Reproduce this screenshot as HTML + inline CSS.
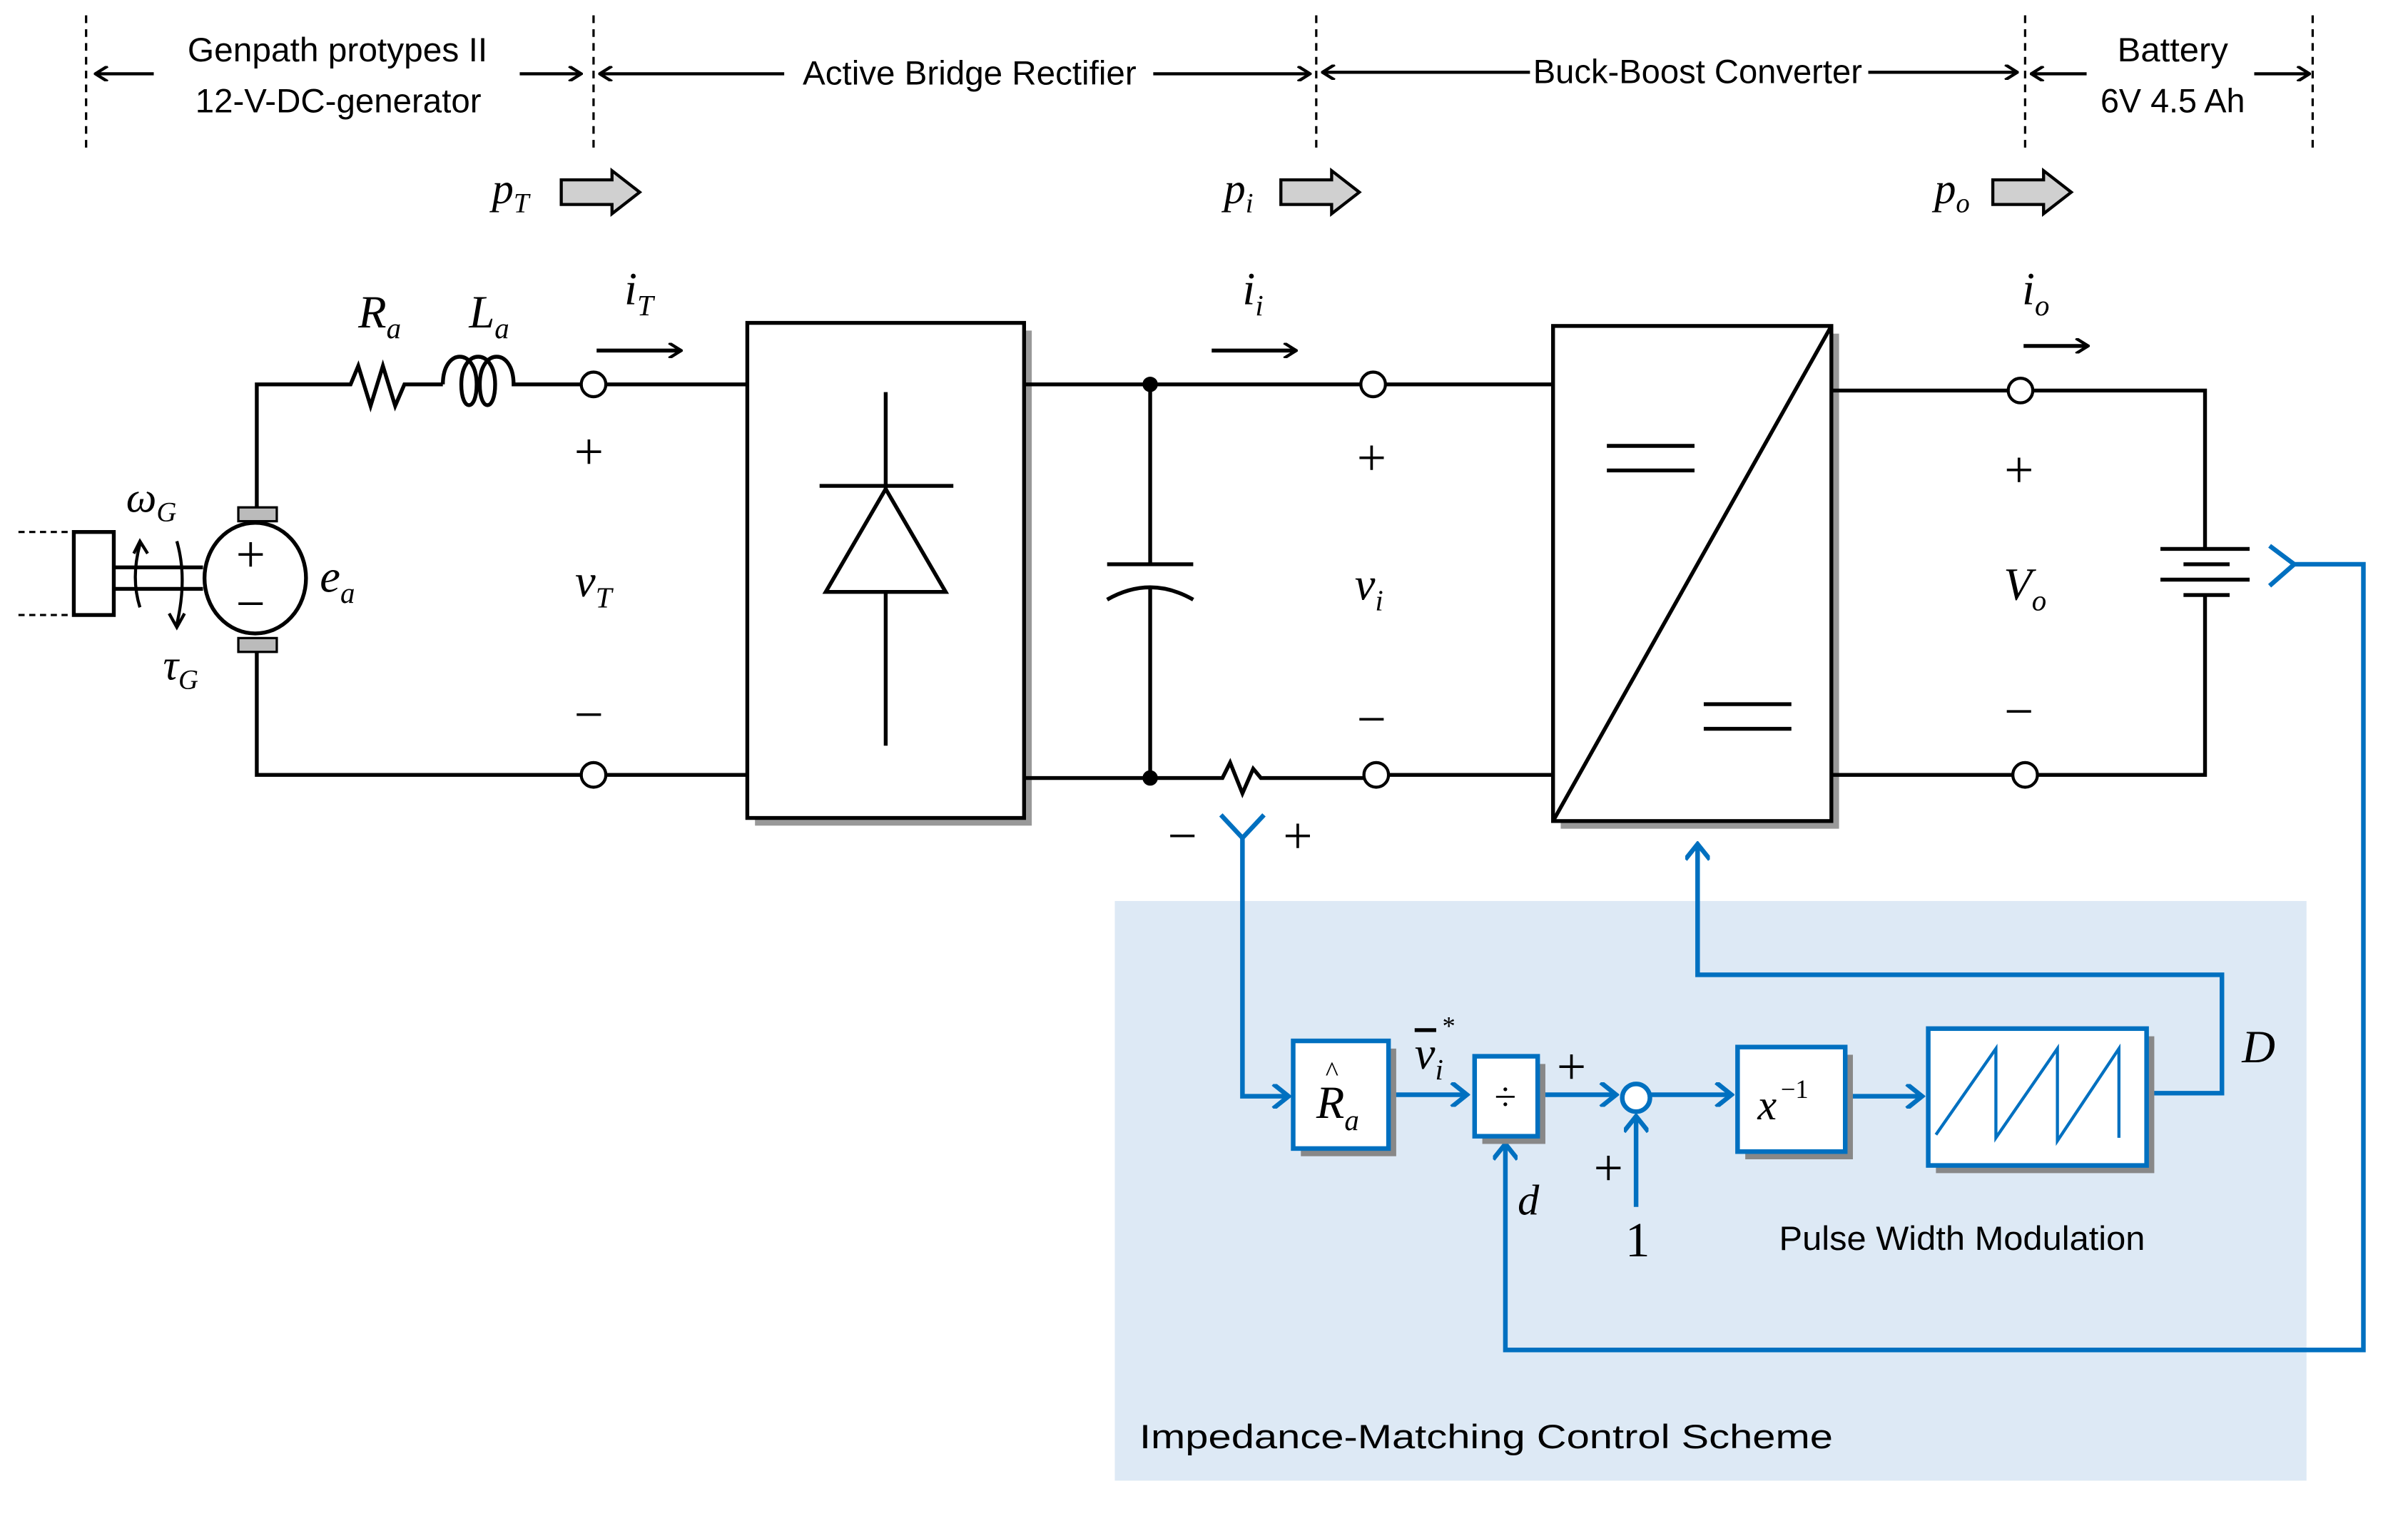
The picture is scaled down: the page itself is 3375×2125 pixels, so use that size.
<!DOCTYPE html>
<html><head><meta charset="utf-8"><style>
html,body{margin:0;padding:0;background:#fff;}
svg{display:block;}
.t{font-family:"Liberation Sans",sans-serif;font-size:22px;fill:#000;}
.m{font-family:"Liberation Serif",serif;font-style:italic;fill:#000;}
.s{font-family:"Liberation Serif",serif;fill:#000;}
</style></head><body>
<svg width="3375" height="2125" viewBox="0 0 1566 986" preserveAspectRatio="none" xmlns="http://www.w3.org/2000/svg">
<defs>
<marker id="ak" markerWidth="10" markerHeight="10" refX="9" refY="5" orient="auto" markerUnits="userSpaceOnUse"><path d="M1,0 L9,5 L1,10" fill="none" stroke="#000" stroke-width="2"/></marker>
<marker id="ab" markerWidth="14" markerHeight="16" refX="12" refY="8" orient="auto" markerUnits="userSpaceOnUse"><path d="M2,0 L12,8 L2,16" fill="none" stroke="#0070c0" stroke-width="3"/></marker>
</defs>
<rect width="1566" height="986" fill="#fff"/>
<g stroke="#000" stroke-width="1.5" stroke-dasharray="5,4">
<line x1="56" y1="10" x2="56" y2="100"/><line x1="386" y1="10" x2="386" y2="100"/>
<line x1="856" y1="10" x2="856" y2="100"/><line x1="1317" y1="10" x2="1317" y2="100"/>
<line x1="1504" y1="10" x2="1504" y2="100"/>
</g>
<g stroke="#000" stroke-width="2" fill="none" marker-end="url(#ak)">
<line x1="100" y1="48" x2="62" y2="48"/><line x1="338" y1="48" x2="378" y2="48"/>
<line x1="510" y1="48" x2="390" y2="48"/><line x1="750" y1="48" x2="852" y2="48"/>
<line x1="995" y1="47" x2="860" y2="47"/><line x1="1215" y1="47" x2="1312" y2="47"/>
<line x1="1357" y1="48" x2="1321" y2="48"/><line x1="1466" y1="48" x2="1502" y2="48"/>
</g>
<g class="t">
<text x="122" y="40" textLength="195" lengthAdjust="spacingAndGlyphs">Genpath protypes II</text>
<text x="127" y="73" textLength="186" lengthAdjust="spacingAndGlyphs">12-V-DC-generator</text>
<text x="522" y="55" textLength="217" lengthAdjust="spacingAndGlyphs">Active Bridge Rectifier</text>
<text x="997" y="54" textLength="214" lengthAdjust="spacingAndGlyphs">Buck-Boost Converter</text>
<text x="1377" y="40" textLength="72" lengthAdjust="spacingAndGlyphs">Battery</text>
<text x="1366" y="73" textLength="94" lengthAdjust="spacingAndGlyphs">6V 4.5 Ah</text>
</g>
<g fill="#d0d0d0" stroke="#000" stroke-width="2">
<path d="M365,117 H398 V111 L416,125 L398,139 V133 H365 Z"/>
<path d="M833,117 H866 V111 L884,125 L866,139 V133 H833 Z"/>
<path d="M1296,117 H1329 V111 L1347,125 L1329,139 V133 H1296 Z"/>
</g>
<text class="m" x="320" y="132" font-size="28">p<tspan font-size="18" dy="6">T</tspan></text>
<text class="m" x="796" y="132" font-size="28">p<tspan font-size="18" dy="6">i</tspan></text>
<text class="m" x="1258" y="132" font-size="28">p<tspan font-size="18" dy="6">o</tspan></text>

<g stroke="#000" stroke-width="2.5" fill="none">
<polyline points="167,333 167,250 228,250 233,238 241,264 249,238 257,264 263,250 268,250 288,250"/>
<path d="M288,250 c0,-24 22,-24 22,0 c0,18 -10,18 -10,0 c0,-24 22,-24 22,0 c0,18 -10,18 -10,0 c0,-24 22,-24 22,0 H378"/>
<line x1="394" y1="250" x2="486" y2="250"/>
<polyline points="167,424 167,504 378,504"/><line x1="394" y1="504" x2="486" y2="504"/>
<ellipse cx="166" cy="376" rx="33" ry="36"/>
<rect x="48" y="346" width="26" height="54" stroke-width="2.5"/>
<line x1="74" y1="369" x2="132" y2="369"/><line x1="74" y1="383" x2="132" y2="383"/>
<path d="M91,395 Q85,376 91,354" stroke-width="2"/><path d="M87,360 L91,352 L96,360" stroke-width="2"/>
<path d="M115,352 Q122,376 115,406" stroke-width="2"/><path d="M110,399 L115,408 L120,399" stroke-width="2"/>
</g>
<g stroke="#000" stroke-width="1.5" stroke-dasharray="4,3"><line x1="12" y1="346" x2="48" y2="346"/><line x1="12" y1="400" x2="48" y2="400"/></g>
<g fill="#bbb" stroke="#000" stroke-width="1.5"><rect x="155" y="330" width="25" height="9"/><rect x="155" y="415" width="25" height="9"/></g>
<g fill="#fff" stroke="#000" stroke-width="2"><circle cx="386" cy="250" r="8"/><circle cx="386" cy="504" r="8"/></g>
<text class="s" x="163" y="372" font-size="34" text-anchor="middle">+</text>
<text class="s" x="163" y="404" font-size="34" text-anchor="middle">−</text>
<text class="m" x="82" y="333" font-size="28">ω<tspan font-size="18" dy="6">G</tspan></text>
<text class="m" x="106" y="442" font-size="28">τ<tspan font-size="18" dy="6">G</tspan></text>
<text class="m" x="208" y="385" font-size="30">e<tspan font-size="19" dy="7">a</tspan></text>
<text class="m" x="233" y="213" font-size="30">R<tspan font-size="19" dy="7">a</tspan></text>
<text class="m" x="305" y="213" font-size="30">L<tspan font-size="19" dy="7">a</tspan></text>
<text class="m" x="406" y="198" font-size="30">i<tspan font-size="19" dy="7">T</tspan></text>
<line x1="388" y1="228" x2="443" y2="228" stroke="#000" stroke-width="2.5" marker-end="url(#ak)"/>
<text class="s" x="383" y="305" font-size="34" text-anchor="middle">+</text>
<text class="m" x="374" y="388" font-size="30">v<tspan font-size="19" dy="7">T</tspan></text>
<text class="s" x="383" y="476" font-size="34" text-anchor="middle">−</text>

<rect x="491" y="215" width="180" height="322" fill="#999"/>
<rect x="486" y="210" width="180" height="322" fill="#fff" stroke="#000" stroke-width="2.5"/>
<g stroke="#000" stroke-width="2.5" fill="none">
<line x1="576" y1="255" x2="576" y2="485"/><line x1="533" y1="316" x2="620" y2="316"/>
<polygon points="537,385 615,385 576,318" fill="#fff"/>
<line x1="666" y1="250" x2="885" y2="250"/>
<polyline points="666,506 795,506 800,496 808,516 815,500 820,506 887,506"/>
<line x1="748" y1="250" x2="748" y2="367"/><line x1="720" y1="367" x2="776" y2="367"/>
<path d="M720,390 Q748,374 776,390"/><line x1="748" y1="381" x2="748" y2="506"/>
<line x1="901" y1="250" x2="1010" y2="250"/><line x1="903" y1="504" x2="1010" y2="504"/>
</g>
<circle cx="748" cy="250" r="5" fill="#000"/><circle cx="748" cy="506" r="5" fill="#000"/>
<g fill="#fff" stroke="#000" stroke-width="2"><circle cx="893" cy="250" r="8"/><circle cx="895" cy="504" r="8"/></g>
<text class="m" x="808" y="198" font-size="30">i<tspan font-size="19" dy="7">i</tspan></text>
<line x1="788" y1="228" x2="843" y2="228" stroke="#000" stroke-width="2.5" marker-end="url(#ak)"/>
<text class="s" x="892" y="309" font-size="34" text-anchor="middle">+</text>
<text class="m" x="881" y="390" font-size="30">v<tspan font-size="19" dy="7">i</tspan></text>
<text class="s" x="892" y="479" font-size="34" text-anchor="middle">−</text>
<text class="s" x="769" y="555" font-size="34" text-anchor="middle">−</text>
<text class="s" x="844" y="555" font-size="34" text-anchor="middle">+</text>

<rect x="1015" y="217" width="181" height="322" fill="#999"/>
<rect x="1010" y="212" width="181" height="322" fill="#fff" stroke="#000" stroke-width="2.5"/>
<g stroke="#000" stroke-width="2.5" fill="none">
<line x1="1010" y1="534" x2="1191" y2="212"/>
<line x1="1045" y1="290" x2="1102" y2="290"/><line x1="1045" y1="306" x2="1102" y2="306"/>
<line x1="1108" y1="458" x2="1165" y2="458"/><line x1="1108" y1="474" x2="1165" y2="474"/>
<line x1="1191" y1="254" x2="1306" y2="254"/><polyline points="1322,254 1434,254 1434,356"/>
<line x1="1191" y1="504" x2="1309" y2="504"/><polyline points="1325,504 1434,504 1434,388"/>
<line x1="1405" y1="357" x2="1463" y2="357"/><line x1="1420" y1="367" x2="1450" y2="367"/>
<line x1="1405" y1="377" x2="1463" y2="377"/><line x1="1420" y1="387" x2="1450" y2="387"/>
</g>
<g fill="#fff" stroke="#000" stroke-width="2"><circle cx="1314" cy="254" r="8"/><circle cx="1317" cy="504" r="8"/></g>
<text class="m" x="1315" y="198" font-size="30">i<tspan font-size="19" dy="7">o</tspan></text>
<line x1="1316" y1="225" x2="1358" y2="225" stroke="#000" stroke-width="2.5" marker-end="url(#ak)"/>
<text class="s" x="1313" y="317" font-size="34" text-anchor="middle">+</text>
<text class="m" x="1303" y="390" font-size="30">V<tspan font-size="19" dy="7">o</tspan></text>
<text class="s" x="1313" y="474" font-size="34" text-anchor="middle">−</text>

<rect x="725" y="586" width="775" height="377" fill="#dde9f5"/>
<g stroke="#0070c0" stroke-width="3" fill="none">
<polyline points="794,530 808,545 822,530"/>
<polyline points="808,545 808,713 838,713" marker-end="url(#ab)"/>
<polyline points="1476,355 1492,367 1476,381"/>
<polyline points="1492,367 1537,367 1537,878 979,878 979,744" marker-end="url(#ab)"/>
<line x1="903" y1="712" x2="954" y2="712" marker-end="url(#ab)"/>
<line x1="1000" y1="712" x2="1051" y2="712" marker-end="url(#ab)"/>
<line x1="1064" y1="785" x2="1064" y2="726" marker-end="url(#ab)"/>
<line x1="1073" y1="712" x2="1126" y2="712" marker-end="url(#ab)"/>
<line x1="1200" y1="713" x2="1250" y2="713" marker-end="url(#ab)"/>
<polyline points="1396,711 1445,711 1445,634 1104,634 1104,549" marker-end="url(#ab)"/>
</g>
<g fill="#888"><rect x="846" y="682" width="62" height="70"/><rect x="964" y="692" width="41" height="52"/><rect x="1135" y="686" width="70" height="68"/><rect x="1259" y="674" width="142" height="89"/></g>
<g fill="#fff" stroke="#0070c0" stroke-width="3">
<rect x="841" y="677" width="62" height="70"/><rect x="959" y="687" width="41" height="52"/>
<rect x="1130" y="681" width="70" height="68"/><rect x="1254" y="669" width="142" height="89"/>
<circle cx="1064" cy="714" r="9"/>
</g>
<polyline points="1259,738 1298,682 1298,740 1338,682 1338,742 1378,682 1378,740" fill="none" stroke="#0070c0" stroke-width="2"/>
<text class="m" x="856" y="727" font-size="30">R<tspan font-size="19" dy="8">a</tspan></text>
<text class="s" x="862" y="703" font-size="18">^</text>
<text class="s" x="979" y="722" font-size="26" text-anchor="middle">÷</text>
<text class="m" x="1143" y="728" font-size="28">x</text><text class="s" x="1158" y="714" font-size="17">−1</text>
<line x1="920" y1="670" x2="934" y2="670" stroke="#000" stroke-width="2.5"/>
<text class="m" x="920" y="695" font-size="30">v<tspan font-size="19" dy="7">i</tspan></text>
<text class="s" x="938" y="673" font-size="17">*</text>
<text class="s" x="1022" y="705" font-size="34" text-anchor="middle">+</text>
<text class="s" x="1046" y="771" font-size="34" text-anchor="middle">+</text>
<text class="s" x="1065" y="817" font-size="32" text-anchor="middle">1</text>
<text class="m" x="987" y="790" font-size="28">d</text>
<text class="m" x="1458" y="691" font-size="30">D</text>
<text class="t" x="1157" y="813" textLength="238" lengthAdjust="spacingAndGlyphs">Pulse Width Modulation</text>
<text class="t" x="741" y="942" font-size="27" textLength="451" lengthAdjust="spacingAndGlyphs">Impedance-Matching Control Scheme</text>
</svg>
</body></html>
